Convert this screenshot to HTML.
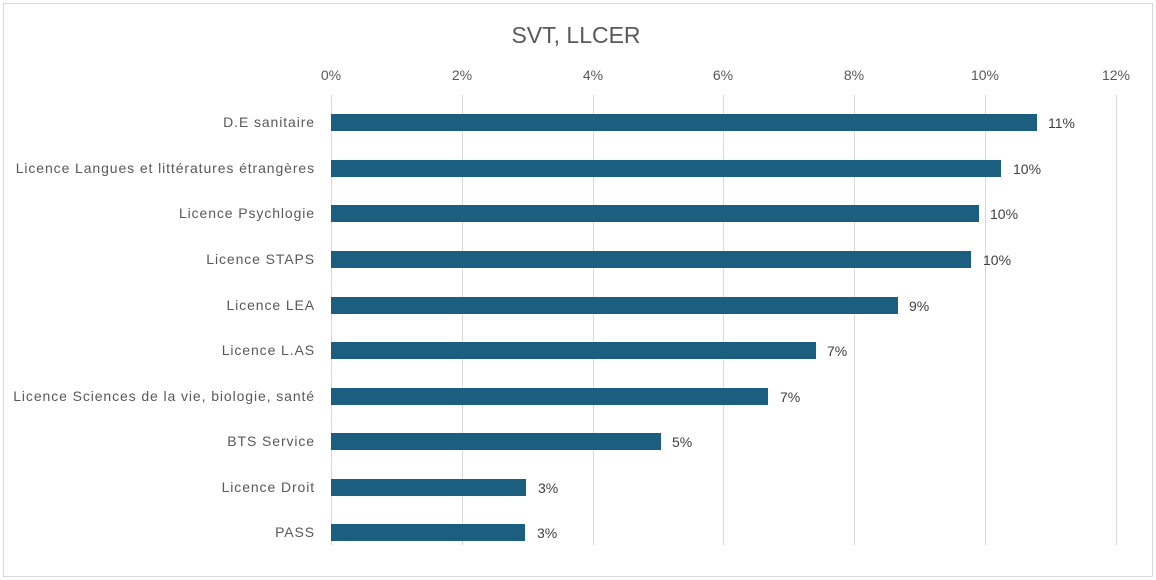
<!DOCTYPE html>
<html><head><meta charset="utf-8"><style>
body{margin:0;background:#fff;}
svg{display:block;font-family:"Liberation Sans",sans-serif;}
</style></head><body>
<svg width="1156" height="580" xmlns="http://www.w3.org/2000/svg">
<rect x="3.5" y="3.5" width="1149" height="573" fill="#fff" stroke="#d9d9d9"/>
<text x="576" y="43" font-size="23" fill="#595959" text-anchor="middle">SVT, LLCER</text>
<g stroke="#d9d9d9" stroke-width="1">
<line x1="331.5" y1="95" x2="331.5" y2="545"/>
<line x1="462.5" y1="95" x2="462.5" y2="545"/>
<line x1="593.5" y1="95" x2="593.5" y2="545"/>
<line x1="723.5" y1="95" x2="723.5" y2="545"/>
<line x1="854.5" y1="95" x2="854.5" y2="545"/>
<line x1="985.5" y1="95" x2="985.5" y2="545"/>
<line x1="1116.5" y1="95" x2="1116.5" y2="545"/>
</g>
<g font-size="14" fill="#595959" text-anchor="middle">
<text x="331" y="80">0%</text><text x="462" y="80">2%</text><text x="593" y="80">4%</text>
<text x="723" y="80">6%</text><text x="854" y="80">8%</text><text x="985" y="80">10%</text><text x="1116" y="80">12%</text>
</g>
<g fill="#1b5e80">
<rect x="331" y="114" width="706" height="17"/>
<rect x="331" y="160" width="670" height="17"/>
<rect x="331" y="205" width="648" height="17"/>
<rect x="331" y="251" width="640" height="17"/>
<rect x="331" y="297" width="567" height="17"/>
<rect x="331" y="342" width="485" height="17"/>
<rect x="331" y="388" width="437" height="17"/>
<rect x="331" y="433" width="330" height="17"/>
<rect x="331" y="479" width="195" height="17"/>
<rect x="331" y="524" width="194" height="17"/>
</g>
<g font-size="14" fill="#404040">
<text x="1048" y="128">11%</text><text x="1013" y="174">10%</text><text x="990" y="219">10%</text>
<text x="983" y="265">10%</text><text x="909" y="311">9%</text><text x="827" y="356">7%</text>
<text x="780" y="402">7%</text><text x="672" y="447">5%</text><text x="538" y="493">3%</text><text x="537" y="538">3%</text>
</g>
<g font-size="14" fill="#595959" text-anchor="end" letter-spacing="0.9">
<text x="315" y="127">D.E sanitaire</text>
<text x="315" y="173">Licence Langues et littératures étrangères</text>
<text x="315" y="218">Licence Psychlogie</text>
<text x="315" y="264">Licence STAPS</text>
<text x="315" y="310">Licence LEA</text>
<text x="315" y="355">Licence L.AS</text>
<text x="315" y="401">Licence Sciences de la vie, biologie, santé</text>
<text x="315" y="446">BTS Service</text>
<text x="315" y="492">Licence Droit</text>
<text x="315" y="537">PASS</text>
</g>
</svg>
</body></html>
